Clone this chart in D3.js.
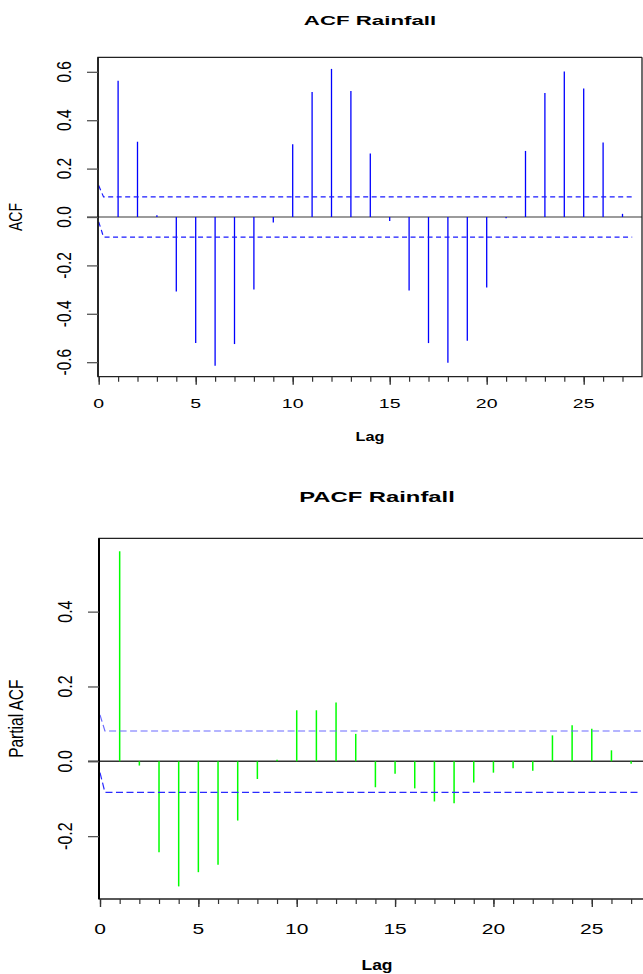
<!DOCTYPE html>
<html>
<head>
<meta charset="utf-8">
<script src="https://cdn.jsdelivr.net/npm/d3@7"></script>
<style>
  body { margin: 0; background: #fff; }
  svg text { font-family: "Liberation Sans", Arial, sans-serif; fill: #000; }
</style>
</head>
<body>
<svg id="chart" width="643" height="974"></svg>
<script>
// lags shown in both plots
var lags = [1, 2, 3, 4, 5, 6, 7, 8, 9, 10, 11, 12, 13, 14, 15, 16, 17, 18, 19, 20, 21, 22, 23, 24, 25, 26, 27];
// autocorrelation values
var acfValues = [0.561, 0.309, 0.005, -0.306, -0.519, -0.613, -0.523, -0.298, -0.021, 0.299,
    0.515, 0.610, 0.519, 0.260, -0.014, -0.302, -0.519, -0.600, -0.509, -0.289,
    -0.003, 0.271, 0.510, 0.599, 0.529, 0.306, 0.011];
// partial autocorrelation values
var pacfValues = [0.560, -0.010, -0.242, -0.333, -0.295, -0.275, -0.157, -0.046, 0.003, 0.135,
    0.135, 0.156, 0.072, -0.068, -0.032, -0.071, -0.106, -0.111, -0.055, -0.029,
    -0.017, -0.024, 0.068, 0.095, 0.086, 0.028, -0.005];
// confidence band (starts with a short slope at lag 0)
var bandLags = [0, 0.25, 27.5];
var acfUpper = [0.13, 0.083, 0.083];
var acfLower = [-0.02, -0.083, -0.083];
var pacfUpper = [0.124, 0.081, 0.081];
var pacfLower = [-0.03, -0.083, -0.083];
// tick labels
var lagTicks = [0, 5, 10, 15, 20, 25];
var lagMinorTicks = [0, 1, 2, 3, 4, 5, 6, 7, 8, 9, 10, 11, 12, 13, 14, 15, 16, 17, 18, 19, 20, 21, 22, 23, 24, 25, 26, 27];
var acfTicks = [-0.6, -0.4, -0.2, 0.0, 0.2, 0.4, 0.6];
var pacfTicks = [-0.2, 0.0, 0.2, 0.4];

var svg = d3.select('#chart');

/**
 * text stretched horizontally (the picture is wider than tall)
 */
function addText(g, str, x, y, size, sx, opts) {
    opts = opts || {};
    var tr = 'translate(' + x + ',' + y + ')';
    if (opts.rotate) {
        tr += ' rotate(-90) scale(1,' + sx + ')';
    } else {
        tr += ' scale(' + sx + ',1)';
    }
    return g.append('text')
        .attr('transform', tr)
        .attr('text-anchor', opts.anchor || 'middle')
        .attr('font-size', size)
        .attr('font-weight', opts.bold ? 'bold' : 'normal')
        .text(str);
}

/**
 * draw one correlogram panel
 */
function drawPanel(cfg) {
    var g = svg.append('g');
    var x = d3.scaleLinear().domain([0, 28]).range(cfg.xRange);
    var y = d3.scaleLinear().domain(cfg.yDomain).range(cfg.yRange);
    var left = cfg.boxLeft, right = cfg.boxRight;
    var top = cfg.yRange[1], bottom = cfg.yRange[0];

    // zero line
    g.append('line')
        .attr('x1', left - 11).attr('x2', Math.min(right, 643))
        .attr('y1', y(0)).attr('y2', y(0))
        .attr('stroke', cfg.zeroColor).attr('stroke-width', 1.5);

    // spikes
    g.selectAll('line.spike')
        .data(cfg.values)
        .enter()
        .append('line')
        .attr('class', 'spike')
        .attr('x1', function(d, i) { return x(lags[i]); })
        .attr('x2', function(d, i) { return x(lags[i]); })
        .attr('y1', y(0))
        .attr('y2', function(d) { return y(d) + (d > 0 ? -0.5 : 0.5); })
        .attr('stroke', cfg.spikeColor)
        .attr('stroke-width', cfg.spikeWidth);

    // confidence band
    var band = d3.line()
        .x(function(d, i) { return x(bandLags[i]); })
        .y(function(d) { return y(d); });
    g.append('path')
        .attr('d', band(cfg.upper))
        .attr('fill', 'none')
        .attr('stroke', cfg.upperColor)
        .attr('stroke-width', 1.2)
        .attr('stroke-dasharray', cfg.dash);
    g.append('path')
        .attr('d', band(cfg.lower))
        .attr('fill', 'none')
        .attr('stroke', cfg.lowerColor)
        .attr('stroke-width', 1.2)
        .attr('stroke-dasharray', cfg.dash);

    // box
    g.append('path')
        .attr('d', 'M' + right + ',' + top + 'H' + left + 'V' + bottom + 'H' + right + (right < 643 ? 'V' + top : ''))
        .attr('fill', 'none')
        .attr('stroke', '#222')
        .attr('stroke-width', 1.3);
    g.append('line')
        .attr('x1', left).attr('x2', left).attr('y1', top).attr('y2', bottom)
        .attr('stroke', '#000').attr('stroke-width', cfg.leftWidth);

    // y axis ticks
    var yAxis = d3.axisLeft(y).tickValues(cfg.yTicks).tickSize(11).tickFormat('');
    var ya = g.append('g').attr('transform', 'translate(' + left + ',0)').call(yAxis);
    ya.select('.domain').remove();
    ya.selectAll('.tick line').attr('stroke', '#555').attr('stroke-width', 1.3);
    cfg.yTicks.forEach(function(t) {
        addText(g, t.toFixed(1), cfg.yLabelX, y(t), cfg.rotSize, cfg.rotSx, {rotate: true});
    });

    // x axis ticks (minor every lag, major every 5)
    var xMinor = d3.axisBottom(x).tickValues(lagMinorTicks).tickSize(5).tickFormat('');
    var xm = g.append('g').attr('transform', 'translate(0,' + bottom + ')').call(xMinor);
    xm.select('.domain').remove();
    xm.selectAll('.tick line').attr('stroke', '#333').attr('stroke-width', 1.2);
    var xMajor = d3.axisBottom(x).tickValues(lagTicks).tickSize(8).tickFormat('');
    var xa = g.append('g').attr('transform', 'translate(0,' + bottom + ')').call(xMajor);
    xa.select('.domain').remove();
    xa.selectAll('.tick line').attr('stroke', '#333').attr('stroke-width', 1.4);
    lagTicks.forEach(function(t) {
        addText(g, String(t), x(t), cfg.xLabelY, cfg.tickSize, cfg.tickSx);
    });

    // titles
    addText(g, cfg.title, cfg.centerX, cfg.titleY, cfg.titleSize, cfg.titleSx, {bold: true});
    addText(g, 'Lag', cfg.centerX, cfg.lagY, cfg.lagSize, cfg.lagSx, {bold: true});
    addText(g, cfg.yTitle, cfg.yTitleX, (top + bottom) / 2, cfg.yTitleSize, cfg.rotSx, {rotate: true});
}

// ACF
drawPanel({
    values: acfValues, upper: acfUpper, lower: acfLower,
    xRange: [98.7, 641.9], yDomain: [-0.66, 0.66], yRange: [376.7, 57.3],
    boxLeft: 98, boxRight: 642,
    yTicks: acfTicks,
    spikeColor: '#0000ff', spikeWidth: 1.3,
    upperColor: '#1a1aff', lowerColor: '#1a1aff', dash: '5,3.5',
    zeroColor: '#7a7a7a', leftWidth: 1.3,
    title: 'ACF Rainfall', titleY: 25, titleSize: 13.5, titleSx: 1.65,
    centerX: 370, lagY: 441, xLabelY: 407.5,
    tickSize: 13, tickSx: 1.5,
    lagSize: 13, lagSx: 1.25,
    yLabelX: 70.5, yTitle: 'ACF', yTitleX: 22, yTitleSize: 14,
    rotSize: 15.5, rotSx: 1.3
});

// PACF
drawPanel({
    values: pacfValues, upper: pacfUpper, lower: pacfLower,
    xRange: [100, 650.8], yDomain: [-0.368, 0.596], yRange: [899, 538.3],
    boxLeft: 99, boxRight: 655,
    yTicks: pacfTicks,
    spikeColor: '#00ff00', spikeWidth: 1.5,
    upperColor: '#6b6bff', lowerColor: '#2a2aff', dash: '7,3.5',
    zeroColor: '#333', leftWidth: 2,
    title: 'PACF Rainfall', titleY: 501.5, titleSize: 14, titleSx: 1.7,
    centerX: 377, lagY: 970, xLabelY: 934,
    tickSize: 14, tickSx: 1.5,
    lagSize: 14, lagSx: 1.25,
    yLabelX: 72, yTitle: 'Partial ACF', yTitleX: 23, yTitleSize: 15.5,
    rotSize: 16, rotSx: 1.3
});
</script>
</body>
</html>
